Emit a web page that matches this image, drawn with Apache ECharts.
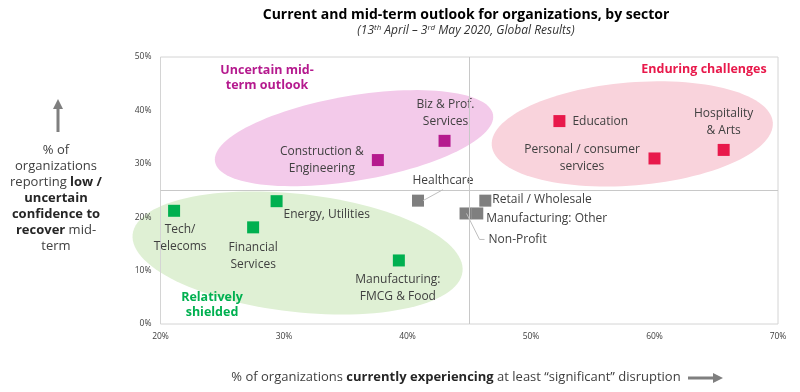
<!DOCTYPE html>
<html><head><meta charset="utf-8">
<script src="https://cdn.jsdelivr.net/npm/echarts@6/dist/echarts.min.js"></script>
<style>html,body{margin:0;padding:0;background:#fff}#c{width:800px;height:392px}</style>
</head><body><div id="c"></div>
<script>
// ---------- DATA ----------
const sectors = ['Tech/\nTelecoms', 'Financial\nServices', 'Energy, Utilities', 'Manufacturing:\nFMCG & Food',
  'Healthcare', 'Retail / Wholesale', 'Manufacturing: Other', 'Non-Profit',
  'Construction &\nEngineering', 'Biz & Prof.\nServices',
  'Education', 'Personal / consumer\nservices', 'Hospitality\n& Arts'];
const disruption = [21.1, 27.5, 29.4, 39.3, 40.85, 46.3, 45.65, 44.7, 37.6, 43.0, 52.3, 60.0, 65.6];
const lowConfidence = [21.2, 18.1, 23.0, 11.9, 23.1, 23.1, 20.7, 20.7, 30.7, 34.3, 38.0, 31.0, 32.6];
const groups = ['shielded','shielded','shielded','shielded','neutral','neutral','neutral','neutral',
  'uncertain','uncertain','enduring','enduring','enduring'];
const xTickValues = [20, 30, 40, 50, 60, 70];
const yTickValues = [0, 10, 20, 30, 40, 50];
const xThreshold = 45;
const yThreshold = 25;

// ---------- LAYOUT / STYLE (not data) ----------
const colors = { shielded: '#00b050', neutral: '#7f7f7f', uncertain: '#b51a8e', enduring: '#e8194b' };
const labelPlacement = [ // [dx, dy, align]
  [6, 27, 'center'], [0, 28.5, 'center'], [7, 13, 'left'], [-1, 28, 'center'],
  [25, -20, 'center'], [7, -1, 'left'], [9, 5.5, 'left'], [23, 26.5, 'left'],
  [-56, 0, 'center'], [1, -27.5, 'center'],
  [13, 0, 'left'], [-72.5, 0, 'center'], [0, -27.5, 'center']
];
const ellipses = [ // centre in data units, semi-axes in px, angle in deg
  { cx: 35.67, cy: 34.8, a: 141, b: 42.5, ang: -9.6, fill: '#f3caea' },
  { cx: 58.2, cy: 35.6, a: 141, b: 51.5, ang: -4.7, fill: '#f9d3dc' },
  { cx: 31.1, cy: 13.3, a: 166, b: 59, ang: 6.5, fill: '#dff0d4' }
];
const FONT = 'Open Sans';

const chart = echarts.init(document.getElementById('c'), null, { renderer: 'canvas' });

const groupOrder = ['shielded', 'neutral', 'uncertain', 'enduring'];
const series = groupOrder.map(g => ({
  type: 'scatter', name: g, z: 3,
  symbol: 'rect', symbolSize: 12,
  itemStyle: { color: colors[g], opacity: 1 },
  data: sectors.map((s, i) => i).filter(i => groups[i] === g).map(i => ({
    name: sectors[i],
    value: [disruption[i], lowConfidence[i]],
    label: {
      show: true, position: 'inside', offset: [labelPlacement[i][0], labelPlacement[i][1]],
      align: labelPlacement[i][2], verticalAlign: 'middle',
      formatter: '{b}', color: '#404040', fontSize: 12, lineHeight: 17, fontFamily: FONT
    }
  })),
  emphasis: { disabled: true }, silent: true
}));
series.push({
  type: 'scatter', z: 1, data: [], silent: true,
  markLine: {
    silent: true, symbol: 'none', label: { show: false },
    lineStyle: { color: '#c8c8c8', type: 'solid', width: 1 },
    data: [{ xAxis: xThreshold }, { yAxis: yThreshold }]
  }
});

chart.setOption({
  animation: false,
  backgroundColor: '#fff',
  grid: { left: 160.5, right: 22, top: 57, bottom: 68, show: true, borderColor: '#d4d4d4', borderWidth: 1 },
  xAxis: {
    type: 'value', min: xTickValues[0], max: xTickValues[xTickValues.length - 1], interval: 10,
    axisLine: { show: false }, axisTick: { show: false }, splitLine: { show: false },
    axisLabel: { formatter: '{value}%', fontSize: 8.5, color: '#404040', margin: 8, fontFamily: FONT }
  },
  yAxis: {
    type: 'value', min: yTickValues[0], max: yTickValues[yTickValues.length - 1], interval: 10,
    axisLine: { show: false }, axisTick: { show: false }, splitLine: { show: false },
    axisLabel: { formatter: '{value}%', fontSize: 8.5, color: '#404040', margin: 9, fontFamily: FONT }
  },
  series: series
});

// ---------- annotations ----------
function px(x, y) { return chart.convertToPixel({ gridIndex: 0 }, [x, y]); }
const graphics = [];
ellipses.forEach(e => {
  const c = px(e.cx, e.cy);
  const th = e.ang * Math.PI / 180;
  const pts = [];
  for (let k = 0; k < 120; k++) {
    const t = k / 120 * Math.PI * 2;
    pts.push([c[0] + e.a * Math.cos(t) * Math.cos(th) - e.b * Math.sin(t) * Math.sin(th),
              c[1] + e.a * Math.cos(t) * Math.sin(th) + e.b * Math.sin(t) * Math.cos(th)]);
  }
  graphics.push({ type: 'polygon', z: -10, silent: true, shape: { points: pts }, style: { fill: e.fill } });
});
// leader lines
const hc = px(disruption[4], lowConfidence[4]);
graphics.push({ type: 'polyline', z: 5, silent: true,
  shape: { points: [[hc[0] + 5, hc[1]], [hc[0] + 25, hc[1] - 11]] },
  style: { stroke: '#bfbfbf', lineWidth: 1, fill: null } });
const np = px(disruption[7], lowConfidence[7]);
graphics.push({ type: 'polyline', z: 5, silent: true,
  shape: { points: [[np[0] + 1, np[1]], [np[0] + 14, np[1] + 26], [np[0] + 19, np[1] + 26]] },
  style: { stroke: '#bfbfbf', lineWidth: 1, fill: null } });

// quadrant titles
graphics.push({ type: 'text', z: 5, silent: true, style: { text: 'Uncertain mid-\nterm outlook', x: 267, y: 78, align: 'center', verticalAlign: 'middle', fill: '#b51a8e', font: 'bold 12.5px "Open Sans"', lineHeight: 15 } });
graphics.push({ type: 'text', z: 5, silent: true, style: { text: 'Enduring challenges', x: 704, y: 69, align: 'center', verticalAlign: 'middle', fill: '#e8194b', font: 'bold 12.5px "Open Sans"' } });
graphics.push({ type: 'text', z: 5, silent: true, style: { text: 'Relatively\nshielded', x: 212, y: 304.5, align: 'center', verticalAlign: 'middle', fill: '#00b050', font: 'bold 12.5px "Open Sans"', lineHeight: 15 } });

// chart title & subtitle
graphics.push({ type: 'text', z: 5, silent: true, style: { text: 'Current and mid-term outlook for organizations, by sector', x: 466, y: 15, align: 'center', verticalAlign: 'middle', fill: '#000', font: 'bold 14px "Open Sans"' } });
graphics.push({ type: 'text', z: 5, silent: true, style: {
  text: '{n|(13}{s|th}{n| April – 3}{s|rd}{n| May 2020, Global Results)}', x: 466, y: 31, align: 'center', verticalAlign: 'middle',
  rich: {
    n: { fontSize: 12, fontStyle: 'italic', fontFamily: FONT, fill: '#333', lineHeight: 15 },
    s: { fontSize: 8, fontStyle: 'italic', fontFamily: FONT, fill: '#333', verticalAlign: 'top', lineHeight: 15 }
  } } });

// y axis title
graphics.push({ type: 'text', z: 5, silent: true, style: {
  text: '{n|% of}\n{n|organizations}\n{n|reporting }{b|low /}\n{b|uncertain}\n{b|confidence to}\n{b|recover}{n| mid-}\n{n|term}',
  x: 56, y: 198, align: 'center', verticalAlign: 'middle',
  rich: {
    n: { fontSize: 13, fontFamily: FONT, fill: '#404040', lineHeight: 16 },
    b: { fontSize: 13, fontFamily: FONT, fontWeight: 'bold', fill: '#262626', lineHeight: 16 }
  } } });
// x axis title
graphics.push({ type: 'text', z: 5, silent: true, style: {
  text: '{n|% of organizations }{b|currently experiencing}{n| at least “significant” disruption}',
  x: 456, y: 377, align: 'center', verticalAlign: 'middle',
  rich: {
    n: { fontSize: 13, fontFamily: FONT, fill: '#404040' },
    b: { fontSize: 13, fontFamily: FONT, fontWeight: 'bold', fill: '#262626' }
  } } });
// arrows
graphics.push({ type: 'line', silent: true, shape: { x1: 58, y1: 132, x2: 58, y2: 108 }, style: { stroke: '#7f7f7f', lineWidth: 3 } });
graphics.push({ type: 'polygon', silent: true, shape: { points: [[58, 99], [53, 109], [63, 109]] }, style: { fill: '#7f7f7f' } });
graphics.push({ type: 'line', silent: true, shape: { x1: 688, y1: 378, x2: 714, y2: 378 }, style: { stroke: '#7f7f7f', lineWidth: 3 } });
graphics.push({ type: 'polygon', silent: true, shape: { points: [[723, 378], [713, 373], [713, 383]] }, style: { fill: '#7f7f7f' } });

chart.setOption({ graphic: graphics });
</script>
</body></html>
